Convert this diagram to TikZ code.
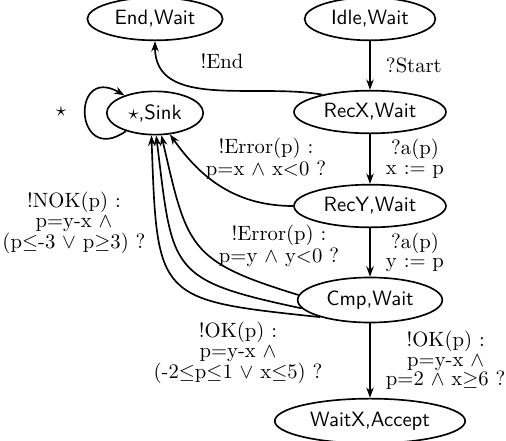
\documentclass[tikz,border=0pt]{standalone}
\usepackage{amsmath}
\usepackage{amssymb}
\usepackage{tikz}
\usetikzlibrary{arrows.meta, shapes.geometric}

\begin{document}
\begin{tikzpicture}[x=0.017cm, y=-0.017cm,
    state/.style={draw, thick, ellipse, font=\sffamily, inner xsep=3.6pt, inner ysep=3.2pt},
    trans/.style={thick, -{Stealth[length=5pt, width=3.6pt]}},
    lbl/.style={align=center, font={\fontsize{10}{9.5}\selectfont}}]
  \useasboundingbox (0,0) rectangle (506,441);
  % etats
  \node[state] (endw) at (155,19) {End,Wait};
  \node[state] (idle) at (370,19) {Idle,Wait};
  \node[state] (sink) at (155,113) {$\star$,Sink};
  \node[state] (recx) at (370,112) {RecX,Wait};
  \node[state] (recy) at (370,206) {RecY,Wait};
  \node[state] (cmp) at (370,300) {Cmp,Wait};
  \node[state] (acc) at (370,421) {WaitX,Accept};
  % transitions verticales
  \draw[trans] (idle) -- (recx) node[midway, right=4pt, lbl] {?Start};
  \draw[trans] (recx) -- (recy) node[midway, right=4pt, lbl] {?a(p)\\x := p};
  \draw[trans] (recy) -- (cmp) node[midway, right=4pt, lbl] {?a(p)\\y := p};
  \draw[trans] (cmp) -- (acc) node[midway, right=4pt, lbl] {!OK(p) :\\p=y-x $\wedge$\\p=2 $\wedge$ x$\geq$6 ?};
  % fin
  \draw[trans] (recx.160) to[out=170, in=-90] (endw.south);
  \node[lbl] (lend) at (222,61) {!End};
  % puits
  \draw[trans] (sink.212) to[out=215, in=150, looseness=4.5] (sink.150);
  \node[lbl] (lstar) at (61,112) {$\star$};
  \draw[trans] (recy.west) to[out=180, in=-55] (sink.-55);
  \draw[trans] (cmp.176) to[out=163, in=-77, looseness=1.4] (sink.-74);
  \draw[trans] (cmp.187) to[out=168, in=-83, looseness=1.55] (sink.-87);
  \draw[trans] (cmp.199) to[out=174, in=-88, looseness=1.7] (sink.-99);
  \node[lbl] (lerrx) at (266,159) {!Error(p) :\\p=x $\wedge$ x$<$0 ?};
  \node[lbl] (lerry) at (279,246) {!Error(p) :\\p=y $\wedge$ y$<$0 ?};
  \node[lbl] (lnok) at (74,223) {!NOK(p) :\\p=y-x $\wedge$\\(p$\leq$-3 $\vee$ p$\geq$3) ?};
  \node[lbl] (lok) at (238,353) {!OK(p) :\\p=y-x $\wedge$\\(-2$\leq$p$\leq$1 $\vee$ x$\leq$5) ?};
\end{tikzpicture}
\end{document}
